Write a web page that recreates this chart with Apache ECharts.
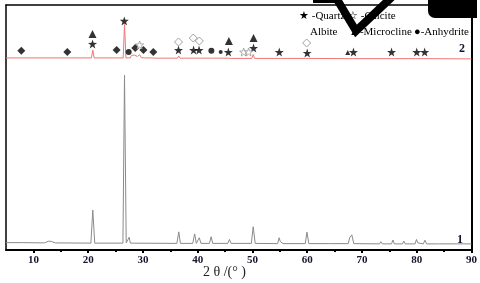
<!DOCTYPE html>
<html><head><meta charset="utf-8">
<script src="https://cdn.jsdelivr.net/npm/echarts@6/dist/echarts.min.js"></script>
<style>html,body{margin:0;padding:0;background:#fff}#c{width:480px;height:283px}</style>
</head><body><div id="c"></div>
<script>
// Pattern 1 (gray, lower) : [2theta, intensity]
var pattern1 = [
[5,3.0],[8,3.0],[12,2.9],[12.8,3.6],[13.3,3.5],[14,2.9],[20.5,2.8],[20.85,16.3],[21.2,2.8],
[26.35,2.8],[26.64,71.4],[26.95,2.9],[27.3,2.9],[27.5,5.2],[27.7,2.8],[36.2,2.7],[36.55,7.4],[36.85,2.7],
[39.1,2.7],[39.45,6.6],[39.75,2.7],[40.0,2.7],[40.3,5.0],[40.6,2.7],[42.15,2.7],[42.45,5.4],[42.75,2.7],
[45.5,2.7],[45.8,4.3],[46.1,2.7],[49.8,2.7],[50.14,9.5],[50.5,2.7],[54.6,2.6],[54.87,5.0],[55.1,3.4],
[55.3,3.6],[55.6,2.6],[59.65,2.6],[59.95,7.3],[60.3,2.6],[63.8,2.6],[64.05,3.3],[64.3,2.6],[67.5,2.6],
[67.75,5.0],[67.9,4.2],[68.15,6.2],[68.5,2.6],[73.2,2.5],[73.45,3.4],[73.7,2.5],[75.4,2.5],[75.65,4.1],
[75.9,2.5],[77.4,2.5],[77.65,3.6],[77.9,2.5],[79.7,2.5],[79.95,4.3],[80.2,2.9],[80.4,2.5],[81.2,2.5],
[81.5,4.0],[81.8,2.5],[83.6,2.5],[83.85,3.2],[84.1,2.5],[90,2.5]
];
// Pattern 2 (red, upper)
var pattern2 = [
[5,78.4],[7.6,78.4],[7.8,79.0],[8.1,78.4],[16.0,78.4],[16.2,78.9],[16.5,78.4],[20.6,78.4],[20.85,81.6],
[21.1,78.4],[25.0,78.4],[25.25,79.1],[25.5,78.4],[26.4,78.4],[26.64,92.0],[26.9,78.4],[27.3,78.4],
[27.5,79.2],[27.7,78.4],[27.9,79.4],[28.1,79.2],[28.4,79.6],[28.7,79.9],[29.0,79.0],[29.4,79.7],
[29.7,78.5],[30.0,78.9],[30.3,78.4],[31.8,78.4],[31.95,78.8],[32.2,78.3],[36.3,78.3],[36.55,79.2],
[36.8,78.3],[39.2,78.3],[39.45,79.1],[39.7,78.3],[40.1,78.3],[40.3,78.9],[40.5,78.3],[42.3,78.3],
[42.5,78.8],[42.7,78.3],[45.6,78.3],[45.8,79.1],[46.0,78.2],[49.9,78.2],[50.14,79.8],[50.4,78.2],
[54.7,78.2],[54.9,78.7],[55.2,78.2],[59.7,78.2],[59.95,79.0],[60.2,78.2],[67.7,78.1],[68.0,78.8],
[68.3,78.1],[75.4,78.1],[75.65,78.5],[75.9,78.1],[79.8,78.1],[80.0,78.5],[80.2,78.1],[81.3,78.1],
[81.5,78.5],[81.7,78.1],[90,78.0]
];
// Phase markers: [2theta, level]
var quartz = [[20.8,84.1],[26.6,93.5],[36.5,81.6],[39.25,81.6],[40.25,81.6],[45.6,80.8],[50.2,82.4],[54.9,80.8],[60.0,80.4],[68.45,80.8],[75.4,80.8],[80.0,80.8],[81.45,80.8]];
var microcline = [[20.8,88.2],[45.7,85.3],[50.2,86.5]];
var microclineSmall = [[67.4,80.6]];
var albite = [[36.5,84.9],[39.2,86.5],[40.3,85.3],[59.9,84.5]];
var diamondPhase = [[7.8,81.3],[16.2,80.8],[25.2,81.6],[28.6,82.4],[30.1,81.6],[31.9,80.8]];
var anhydrite = [[27.4,80.8],[42.5,81.3]];
var anhydriteSmall = [[44.2,80.8]];
var calcite = [[29.4,83.7],[48.4,80.8],[49.3,80.8]];
var xMajor = [10,20,30,40,50,60,70,80,90];
var xMinor = [15,25,35,45,55,65,75,85];

var STAR = 'path://M0,-10L2.35,-3.24L9.51,-3.09L3.8,1.24L5.88,8.09L0,4L-5.88,8.09L-3.8,1.24L-9.51,-3.09L-2.35,-3.24Z';
var chart = echarts.init(document.getElementById('c'), null, {renderer:'canvas'});
function sc(data, symbol, size, style){
  return {type:'scatter', data:data, symbol:symbol, symbolSize:size, itemStyle:style, z:5, silent:true};
}
var black = {color:'#000'};
chart.setOption({
  animation:false,
  grid:{left:6,right:8,top:5,bottom:33,containLabel:false},
  xAxis:[
    {type:'value',min:5,max:90,position:'bottom',
     axisLine:{show:true,onZero:false,lineStyle:{color:'#000',width:2}},
     axisTick:{show:true,customValues:xMajor,length:3,lineStyle:{color:'#000',width:2}},
     axisLabel:{customValues:xMajor,margin:5,fontFamily:'Liberation Serif',fontWeight:'bold',fontSize:11,color:'#14142a'},
     splitLine:{show:false}},
    {type:'value',min:5,max:90,position:'bottom',
     axisLine:{show:false},axisLabel:{show:false},splitLine:{show:false},
     axisTick:{show:true,customValues:xMinor,length:2,lineStyle:{color:'#000',width:2}}},
    {type:'value',min:5,max:90,position:'top',
     axisLine:{show:true,onZero:false,lineStyle:{color:'#000',width:1.5}},
     axisTick:{show:false},axisLabel:{show:false},splitLine:{show:false}}
  ],
  yAxis:[
    {type:'value',min:0,max:100,position:'left',
     axisLine:{show:true,onZero:false,lineStyle:{color:'#000',width:1.5}},
     axisTick:{show:false},axisLabel:{show:false},splitLine:{show:false}},
    {type:'value',min:0,max:100,position:'right',
     axisLine:{show:true,onZero:false,lineStyle:{color:'#000',width:2}},
     axisTick:{show:false},axisLabel:{show:false},splitLine:{show:false}}
  ],
  series:[
    {type:'line',data:pattern1,showSymbol:false,symbol:'none',lineStyle:{color:'#8a8a8a',width:1},silent:true},
    {type:'line',data:pattern2,showSymbol:false,symbol:'none',lineStyle:{color:'#f07575',width:1},silent:true},
    sc(quartz,STAR,9,black),
    sc(microcline,'triangle',8,black),
    sc(microclineSmall,'triangle',5,black),
    sc(albite,'diamond',8,{color:'#fff',borderColor:'#888',borderWidth:1}),
    sc(diamondPhase,'diamond',8,black),
    sc(anhydrite,'circle',6,black),
    sc(anhydriteSmall,'circle',4,black),
    sc(calcite,STAR,8,{color:'#fff',borderColor:'#999',borderWidth:1})
  ],
  graphic:[
    {type:'text',left:299,top:11,style:{text:'★ -Quartz',font:'11px "Liberation Serif"',fill:'#000'}},
    {type:'text',left:348,top:11,style:{text:'☆ -Calcite',font:'11px "Liberation Serif"',fill:'#000'}},
    {type:'text',left:310,top:27,style:{text:'Albite',font:'11px "Liberation Serif"',fill:'#000'}},
    {type:'text',left:349,top:27,style:{text:'▲-Microcline',font:'11px "Liberation Serif"',fill:'#000'}},
    {type:'text',left:414,top:27,style:{text:'●-Anhydrite',font:'11px "Liberation Serif"',fill:'#000'}},
    {type:'text',left:459,top:43,style:{text:'2',font:'bold 12px "Liberation Serif"',fill:'#14142a'}},
    {type:'text',left:457,top:234,style:{text:'1',font:'bold 12px "Liberation Serif"',fill:'#14142a'}},
    {type:'text',left:203,top:265,style:{text:'2 θ /(° )',font:'14px "Liberation Serif"',fill:'#222'}},
    {type:'polyline',shape:{points:[[335,-4],[356,31],[393,-4]]},style:{stroke:'#000',lineWidth:8,fill:null,lineJoin:'miter'},z:100},
    {type:'rect',shape:{x:313,y:0,width:25,height:3},style:{fill:'#000'},z:100},
    {type:'rect',shape:{x:428,y:0,width:49,height:18,r:[0,0,0,7]},style:{fill:'#000'},z:100}
  ]
});
</script></body></html>
